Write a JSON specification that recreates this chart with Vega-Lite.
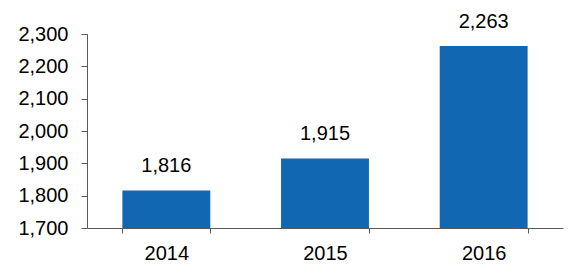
{
  "$schema": "https://vega.github.io/schema/vega-lite/v6.json",
  "width": 476,
  "height": 194,
  "autosize": {"type": "none"},
  "padding": {"left": 87, "top": 34, "right": 9, "bottom": 52},
  "background": "white",
  "config": {
    "view": {"stroke": null},
    "font": "Liberation Sans"
  },
  "data": {
    "values": [
      {"year": "2014", "value": 1816},
      {"year": "2015", "value": 1915},
      {"year": "2016", "value": 2263}
    ]
  },
  "encoding": {
    "x": {
      "field": "year",
      "type": "ordinal",
      "scale": {"paddingInner": 0.446, "paddingOuter": 0.223},
      "axis": {
        "title": null,
        "labelAngle": 0,
        "labelFontSize": 20,
        "labelColor": "#000000",
        "labelPadding": 10,
        "tickBand": "extent",
        "tickSize": 5,
        "tickColor": "#595959",
        "domainColor": "#595959",
        "grid": false
      }
    },
    "y": {
      "field": "value",
      "type": "quantitative",
      "scale": {"domain": [1700, 2300], "nice": false, "zero": false},
      "axis": {
        "title": null,
        "values": [1700, 1800, 1900, 2000, 2100, 2200, 2300],
        "format": ",.0f",
        "labelFontSize": 20,
        "labelColor": "#000000",
        "labelPadding": 13,
        "tickSize": 6,
        "tickColor": "#595959",
        "domainColor": "#595959",
        "grid": false
      }
    }
  },
  "layer": [
    {
      "mark": {"type": "bar", "color": "#1167b1", "clip": true}
    },
    {
      "mark": {"type": "text", "fontSize": 20, "color": "#000000", "baseline": "alphabetic", "dy": -18},
      "encoding": {
        "text": {"field": "value", "type": "quantitative", "format": ",.0f"}
      }
    }
  ]
}
